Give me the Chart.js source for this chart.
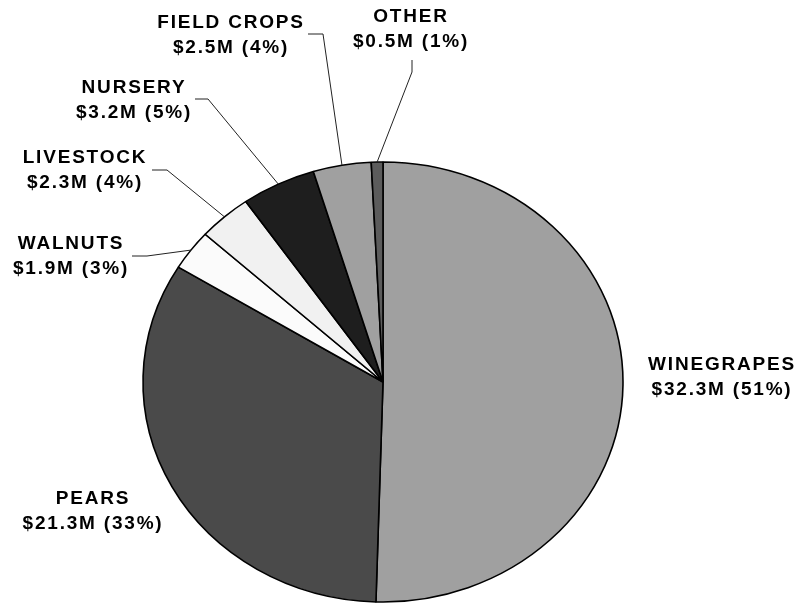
<!DOCTYPE html>
<html>
<head>
<meta charset="utf-8">
<script src="https://cdn.jsdelivr.net/npm/chart.js@4"></script>
<style>
  html, body { margin: 0; padding: 0; background: #fff; }
  #wrap { width: 801px; height: 604px; position: relative; }
</style>
</head>
<body>
<div id="wrap"><canvas id="pie"></canvas></div>
<script>
// data
const categories = ['WINEGRAPES', 'PEARS', 'WALNUTS', 'LIVESTOCK', 'NURSERY', 'FIELD CROPS', 'OTHER'];
const valuesM = [32.3, 21.3, 1.9, 2.3, 3.2, 2.5, 0.5];
const percents = [51, 33, 3, 4, 5, 4, 1];
const sliceColors = ['#a0a0a0', '#4a4a4a', '#fbfbfb', '#f1f1f1', '#1e1e1e', '#a0a0a0', '#5c5c5c'];

// label layout: centre x, baseline of first line; leader elbow (null = no leader)
const labelPos = [
    { x: 721, y: 370 },
    { x: 92, y: 504 },
    { x: 70, y: 249 },
    { x: 84, y: 163 },
    { x: 133, y: 93 },
    { x: 230, y: 28 },
    { x: 410, y: 22 }
];
const leaders = [
    null,
    null,
    [[132, 256], [147, 256]],
    [[152, 170], [167, 170]],
    [[195, 99], [208, 99]],
    [[308, 34], [323, 34]],
    [[412, 60], [412, 72]]
];

const squashY = 220 / 240; // the reference pie is a slightly flattened ellipse

function centre(chart) {
    const arc = chart.getDatasetMeta(0).data[0];
    return { x: arc.x, y: arc.y, r: arc.outerRadius };
}

const ellipsePlugin = {
    id: 'ellipse',
    beforeDatasetsDraw(chart) {
        const c = centre(chart);
        const ctx = chart.ctx;
        ctx.save();
        ctx.translate(c.x, c.y);
        ctx.scale(1, squashY);
        ctx.translate(-c.x, -c.y);
    },
    afterDatasetsDraw(chart) {
        chart.ctx.restore();
    }
};

const labelPlugin = {
    id: 'sliceLabels',
    afterDraw(chart) {
        const ctx = chart.ctx;
        const c = centre(chart);
        const arcs = chart.getDatasetMeta(0).data;

        // leader lines
        ctx.save();
        ctx.strokeStyle = '#222';
        ctx.lineWidth = 1;
        arcs.forEach((arc, i) => {
            if (!leaders[i]) return;
            const mid = (arc.startAngle + arc.endAngle) / 2;
            const ex = c.x + c.r * Math.cos(mid);
            const ey = c.y + c.r * squashY * Math.sin(mid);
            ctx.beginPath();
            ctx.moveTo(leaders[i][0][0], leaders[i][0][1]);
            ctx.lineTo(leaders[i][1][0], leaders[i][1][1]);
            ctx.lineTo(ex, ey);
            ctx.stroke();
        });
        ctx.restore();

        // texts
        ctx.save();
        ctx.fillStyle = '#000';
        ctx.font = 'bold 19px "Liberation Sans", Arial, sans-serif';
        ctx.letterSpacing = '1.8px';
        ctx.textAlign = 'center';
        ctx.textBaseline = 'alphabetic';
        categories.forEach((name, i) => {
            const p = labelPos[i];
            ctx.fillText(name, p.x + 1, p.y);
            ctx.fillText('$' + valuesM[i].toFixed(1) + 'M (' + percents[i] + '%)', p.x + 1, p.y + 25);
        });
        ctx.restore();
    }
};

new Chart(document.getElementById('pie'), {
    type: 'pie',
    data: {
        labels: categories,
        datasets: [{
            data: valuesM,
            backgroundColor: sliceColors,
            borderColor: '#000',
            borderWidth: 1.6,
            radius: 240
        }]
    },
    options: {
        responsive: true,
        maintainAspectRatio: false,
        animation: false,
        layout: { padding: { left: 143, right: 178, top: 160, bottom: 0 } },
        plugins: {
            legend: { display: false },
            tooltip: { enabled: false }
        }
    },
    plugins: [ellipsePlugin, labelPlugin]
});
</script>
</body>
</html>
